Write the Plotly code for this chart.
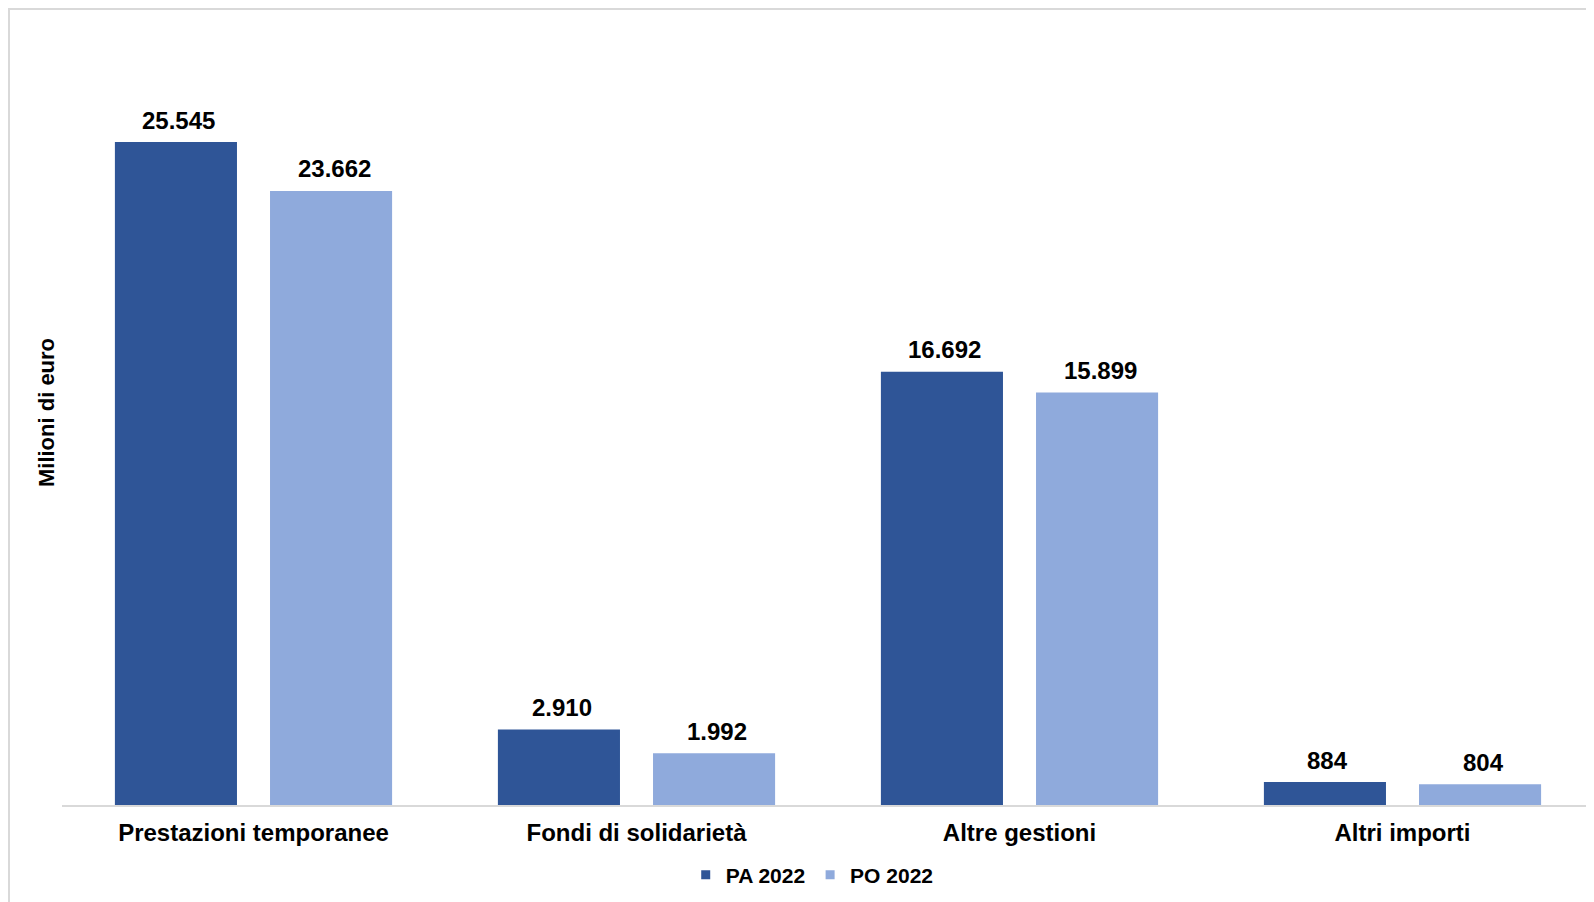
import plotly.graph_objects as go

categories = ["Prestazioni temporanee", "Fondi di solidarietà", "Altre gestioni", "Altri importi"]
pa_2022 = [25545, 2910, 16692, 884]
po_2022 = [23662, 1992, 15899, 804]
series_names = ["PA 2022", "PO 2022"]
colors = ["#2F5597", "#8FAADC"]

FONT = "Liberation Sans, Arial, sans-serif"

def fmt(v):
    return f"{v:,}".replace(",", ".")

BARGAP = 0.19
BARGROUPGAP = 0.213

W, H = 1586, 894
ML, MR, MT, MB = 54, 0, 12, 97
PW = W - ML - MR
PH = H - MT - MB

fig = go.Figure()
for name, vals, col in zip(series_names, [pa_2022, po_2022], colors):
    fig.add_trace(go.Bar(
        x=categories, y=vals, name=name, marker=dict(color=col, line=dict(width=0)),
        showlegend=False, hoverinfo="x+y+name"))
    # legend-only entries with small square swatches
    fig.add_trace(go.Scatter(
        x=[None], y=[None], mode="markers", name=name,
        marker=dict(symbol="square", size=9, color=col), showlegend=True))

# data labels above each bar
slot = (1 - BARGAP) / 2
annotations = []
for j, vals in enumerate([pa_2022, po_2022]):
    off = -slot / 2 if j == 0 else slot / 2
    for i, v in enumerate(vals):
        annotations.append(dict(
            x=i + off, y=v, xref="x", yref="y", text=fmt(v), showarrow=False,
            yanchor="middle", yshift=22, xshift=3,
            font=dict(family=FONT, size=24, color="#000000", weight="bold")))

fig.update_layout(
    width=W, height=H,
    margin=dict(l=ML, r=MR, t=MT, b=MB),
    paper_bgcolor="white", plot_bgcolor="white",
    barmode="group", bargap=BARGAP, bargroupgap=BARGROUPGAP,
    font=dict(family=FONT, color="#000000"),
    annotations=annotations,
    legend=dict(orientation="h", x=0.4897, xanchor="center", y=-70 / PH, yanchor="middle",
                font=dict(family=FONT, size=21, color="#000000", weight="bold"),
                itemwidth=30, traceorder="normal"),
    xaxis=dict(showline=True, linecolor="#D9D9D9", linewidth=1.5, ticks="",
               showgrid=False, zeroline=False, ticklabelstandoff=5,
               tickfont=dict(family=FONT, size=24, color="#000000", weight="bold")),
    yaxis=dict(range=[0, 30250], showticklabels=False, showgrid=False, zeroline=False,
               showline=False, ticks="",
               title=dict(text="Milioni di euro", standoff=0,
                          font=dict(family=FONT, size=22, color="#000000", weight="bold"))),
    shapes=[dict(type="rect", xref="paper", yref="paper",
                 x0=(1 - ML) / PW, x1=1.01, y0=-0.15, y1=(PH + MT - 1) / PH,
                 line=dict(color="#D9D9D9", width=2), fillcolor="rgba(0,0,0,0)", layer="below")],
)

fig.write_html("out.html")
